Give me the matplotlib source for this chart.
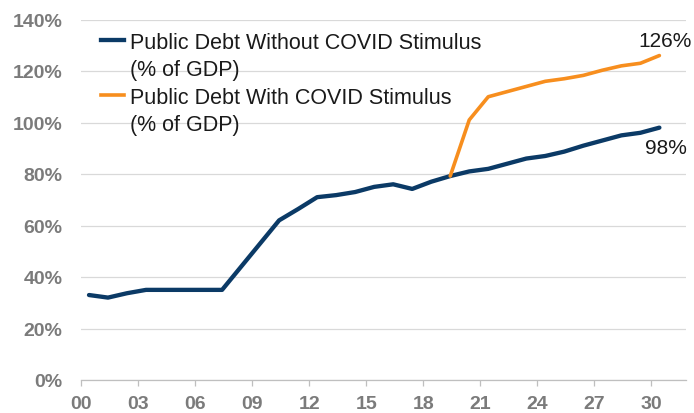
#!/usr/bin/env python3
"""Public debt projection with and without COVID stimulus (% of GDP)."""

import matplotlib
matplotlib.use("Agg")
import matplotlib.pyplot as plt
from matplotlib.lines import Line2D
import numpy as np

# ---------------------------------------------------------------------------
# Data
# ---------------------------------------------------------------------------

years = np.arange(2000, 2031)
debt_without = [33, 32, 33.7, 35, 35, 35, 35, 35, 44, 53, 62, 66.4, 71, 71.8, 73,
                75, 76, 74.2, 77, 79.2, 81, 82, 84, 86, 87, 88.7, 91, 93, 95, 96, 98]

covid_years = np.arange(2019, 2031)
debt_with = [79.2, 101, 110, 112, 114, 116, 117, 118.3, 120.3, 122, 123, 126]

tick_years = np.arange(2000, 2031, 3)
tick_labels = [f"{y % 100:02d}" for y in tick_years]

LABEL_WITHOUT = "Public Debt Without COVID Stimulus"
LABEL_WITH = "Public Debt With COVID Stimulus"
LABEL_UNIT = "(% of GDP)"

# ---------------------------------------------------------------------------
# Style
# ---------------------------------------------------------------------------

NAVY = "#0b3a66"
ORANGE = "#f78e1e"
GRID = "#d9d9d9"
TICK_GRAY = "#7b7b7b"

plt.rcParams["font.family"] = ["Liberation Sans", "DejaVu Sans"]

fig = plt.figure(figsize=(6.94, 4.14), dpi=100)
ax = fig.add_axes([81 / 694, 1 - 381 / 414, (686 - 81) / 694, (381 - 20.5) / 414])

x_off = 2000  # plot against year index
ax.plot(years - x_off, debt_without, color=NAVY, lw=3.1, solid_capstyle="round",
        solid_joinstyle="round", zorder=3)
ax.plot(covid_years - x_off, debt_with, color=ORANGE, lw=2.6, solid_capstyle="round",
        solid_joinstyle="round", zorder=3)

# end-of-line value labels
ax.annotate(f"{debt_with[-1]:.0f}%", xy=(covid_years[-1] - x_off, debt_with[-1]),
            xytext=(4, 11), textcoords="offset points", ha="center", va="center",
            fontsize=15, color="#1a1a1a")
ax.annotate(f"{debt_without[-1]:.0f}%", xy=(years[-1] - x_off, debt_without[-1]),
            xytext=(5, -14), textcoords="offset points", ha="center", va="center",
            fontsize=15, color="#1a1a1a")

# axes
ax.set_xlim(-0.42, 31.4)
ax.set_ylim(0, 140)
ax.set_yticks(np.arange(0, 141, 20))
ax.set_yticklabels([f"{v}%" for v in range(0, 141, 20)])
ax.set_xticks(tick_years - x_off - 0.42)
ax.set_xticklabels(tick_labels)

ax.grid(axis="y", color=GRID, lw=0.9)
ax.set_axisbelow(True)
for side in ("top", "right", "left"):
    ax.spines[side].set_visible(False)
ax.spines["bottom"].set_color("#bfbfbf")
ax.spines["bottom"].set_linewidth(0.9)

ax.tick_params(axis="y", length=0, pad=13.5, labelsize=14, labelcolor=TICK_GRAY)
ax.tick_params(axis="x", direction="out", length=4.5, width=0.9, color="#bfbfbf",
               pad=6.5, labelsize=14, labelcolor=TICK_GRAY)
for lab in ax.get_xticklabels() + ax.get_yticklabels():
    lab.set_fontweight("bold")

# legend: each series title on its own row, unit on the row below
blank = Line2D([], [], color="none")
handles = [Line2D([], [], color=NAVY, lw=3.1), blank,
           Line2D([], [], color=ORANGE, lw=2.6), blank]
labels = [LABEL_WITHOUT, LABEL_UNIT, LABEL_WITH, LABEL_UNIT]
leg = ax.legend(handles, labels, loc="upper left", bbox_to_anchor=(0.018, 0.99),
                frameon=False, fontsize=15.5, handlelength=1.1, handletextpad=0.28,
                labelspacing=0.3, borderaxespad=0.0)
for t in leg.get_texts():
    t.set_color("#1a1a1a")

fig.savefig("out.png", dpi=100)
